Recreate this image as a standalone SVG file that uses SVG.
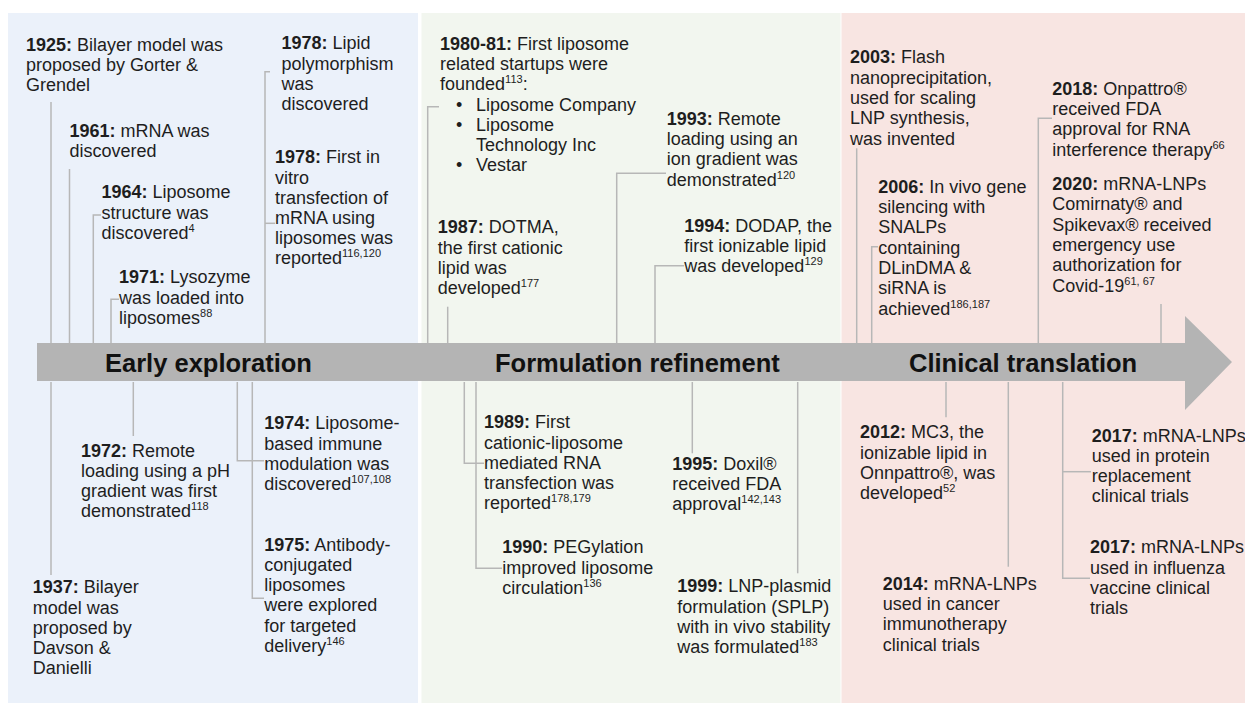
<svg xmlns="http://www.w3.org/2000/svg" width="1245" height="705" viewBox="0 0 1245 705">
<style>
.t{font-family:"Liberation Sans",Arial,Helvetica,sans-serif;font-size:18px;fill:#1e1e1e}
.b{font-weight:bold}
.s{font-size:11px}
.h{font-family:"Liberation Sans",Arial,Helvetica,sans-serif;font-size:25.5px;font-weight:bold;fill:#111}
.c{fill:none;stroke:#b7b7b7;stroke-width:1.5}
</style>
<rect width="1245" height="705" fill="#ffffff"/>
<g id="panels">
<rect x="8" y="13" width="410" height="690" fill="#ebf1fa"/>
<rect x="421.5" y="13" width="419" height="690" fill="#f2f6ef"/>
<rect x="841.5" y="13" width="403.5" height="690" fill="#f8e5e2"/>
</g>
<g id="connectors" class="c">
<path d="M51 102V343"/>
<path d="M51 382V575"/>
<path d="M69.5 169V343"/>
<path d="M101 215H93.3V343"/>
<path d="M119 299.3H111V343"/>
<path d="M270 71.7H265V343"/>
<path d="M275 223.3H265"/>
<path d="M133.3 382V436"/>
<path d="M237.3 382V460.7H264"/>
<path d="M252.3 382V598.3H264"/>
<path d="M439 106.7H427.7V343"/>
<path d="M447.7 306.7V343"/>
<path d="M666 173.3H616.7V343"/>
<path d="M684 265.7H655V343"/>
<path d="M464.3 382V463.3H484"/>
<path d="M476 382V568.3H502"/>
<path d="M692.3 382V453.3"/>
<path d="M797.7 382V573.3"/>
<path d="M856.7 148.3V343"/>
<path d="M878 246.7H871.7V343"/>
<path d="M1052 118.3H1038.3V343"/>
<path d="M1161 304V343"/>
<path d="M946 382V417.3"/>
<path d="M1008.3 382V566.7"/>
<path d="M1062.7 382V578.3H1090"/>
<path d="M1062.7 471.7H1091"/>
</g>
<g id="arrow">
<path d="M37 343H1185V316L1232 362L1185 410V381H37Z" fill="#b4b4b4"/>
<text class="h" x="105" y="372">Early exploration</text>
<text class="h" x="495" y="372">Formulation refinement</text>
<text class="h" x="909" y="372">Clinical translation</text>
</g>
<g id="n1925"><text class="t"><tspan x="26" y="50.5"><tspan class="b">1925:</tspan> Bilayer model was</tspan><tspan x="26" y="70.7">proposed by Gorter &amp;</tspan><tspan x="26" y="90.9">Grendel</tspan></text></g>
<g id="n1961"><text class="t"><tspan x="69.5" y="136.7"><tspan class="b">1961:</tspan> mRNA was</tspan><tspan x="69.5" y="156.9">discovered</tspan></text></g>
<g id="n1964"><text class="t"><tspan x="101.5" y="198.3"><tspan class="b">1964:</tspan> Liposome</tspan><tspan x="101.5" y="218.5">structure was</tspan><tspan x="101.5" y="238.7">discovered<tspan class="s" dy="-7">4</tspan></tspan></text></g>
<g id="n1971"><text class="t"><tspan x="119" y="283.3"><tspan class="b">1971:</tspan> Lysozyme</tspan><tspan x="119" y="303.5">was loaded into</tspan><tspan x="119" y="323.7">liposomes<tspan class="s" dy="-7">88</tspan></tspan></text></g>
<g id="n1978a"><text class="t"><tspan x="281.5" y="49.3"><tspan class="b">1978:</tspan> Lipid</tspan><tspan x="281.5" y="69.5">polymorphism</tspan><tspan x="281.5" y="89.7">was</tspan><tspan x="281.5" y="109.9">discovered</tspan></text></g>
<g id="n1978b"><text class="t"><tspan x="275" y="163.3"><tspan class="b">1978:</tspan> First in</tspan><tspan x="275" y="183.5">vitro</tspan><tspan x="275" y="203.7">transfection of</tspan><tspan x="275" y="223.9">mRNA using</tspan><tspan x="275" y="244.1">liposomes was</tspan><tspan x="275" y="264.3">reported<tspan class="s" dy="-7">116,120</tspan></tspan></text></g>
<g id="n1972"><text class="t"><tspan x="81" y="456.5"><tspan class="b">1972:</tspan> Remote</tspan><tspan x="81" y="476.7">loading using a pH</tspan><tspan x="81" y="496.9">gradient was first</tspan><tspan x="81" y="517.1">demonstrated<tspan class="s" dy="-7">118</tspan></tspan></text></g>
<g id="n1974"><text class="t"><tspan x="264.3" y="429.3"><tspan class="b">1974:</tspan> Liposome-</tspan><tspan x="264.3" y="449.5">based immune</tspan><tspan x="264.3" y="469.7">modulation was</tspan><tspan x="264.3" y="489.9">discovered<tspan class="s" dy="-7">107,108</tspan></tspan></text></g>
<g id="n1975"><text class="t"><tspan x="264.3" y="550.7"><tspan class="b">1975:</tspan> Antibody-</tspan><tspan x="264.3" y="570.9">conjugated</tspan><tspan x="264.3" y="591.1">liposomes</tspan><tspan x="264.3" y="611.3">were explored</tspan><tspan x="264.3" y="631.5">for targeted</tspan><tspan x="264.3" y="651.7">delivery<tspan class="s" dy="-7">146</tspan></tspan></text></g>
<g id="n1937"><text class="t"><tspan x="32.7" y="593.3"><tspan class="b">1937:</tspan> Bilayer</tspan><tspan x="32.7" y="613.5">model was</tspan><tspan x="32.7" y="633.7">proposed by</tspan><tspan x="32.7" y="653.9">Davson &amp;</tspan><tspan x="32.7" y="674.1">Danielli</tspan></text></g>
<g id="n1980"><text class="t"><tspan x="440" y="50"><tspan class="b">1980-81:</tspan> First liposome</tspan><tspan x="440" y="70.2">related startups were</tspan><tspan x="440" y="90.4">founded<tspan class="s" dy="-7">113</tspan><tspan dy="7">:</tspan></tspan><tspan x="456" y="110.6">•</tspan><tspan x="476" y="110.6">Liposome Company</tspan><tspan x="456" y="130.8">•</tspan><tspan x="476" y="130.8">Liposome</tspan><tspan x="476" y="151">Technology Inc</tspan><tspan x="456" y="171.2">•</tspan><tspan x="476" y="171.2">Vestar</tspan></text></g>
<g id="n1987"><text class="t"><tspan x="437.7" y="233.3"><tspan class="b">1987:</tspan> DOTMA,</tspan><tspan x="437.7" y="253.5">the first cationic</tspan><tspan x="437.7" y="273.7">lipid was</tspan><tspan x="437.7" y="293.9">developed<tspan class="s" dy="-7">177</tspan></tspan></text></g>
<g id="n1993"><text class="t"><tspan x="666.7" y="125"><tspan class="b">1993:</tspan> Remote</tspan><tspan x="666.7" y="145.2">loading using an</tspan><tspan x="666.7" y="165.4">ion gradient was</tspan><tspan x="666.7" y="185.6">demonstrated<tspan class="s" dy="-7">120</tspan></tspan></text></g>
<g id="n1994"><text class="t"><tspan x="684.3" y="231.7"><tspan class="b">1994:</tspan> DODAP, the</tspan><tspan x="684.3" y="251.9">first ionizable lipid</tspan><tspan x="684.3" y="272.1">was developed<tspan class="s" dy="-7">129</tspan></tspan></text></g>
<g id="n1989"><text class="t"><tspan x="484" y="428.3"><tspan class="b">1989:</tspan> First</tspan><tspan x="484" y="448.5">cationic-liposome</tspan><tspan x="484" y="468.7">mediated RNA</tspan><tspan x="484" y="488.9">transfection was</tspan><tspan x="484" y="509.1">reported<tspan class="s" dy="-7">178,179</tspan></tspan></text></g>
<g id="n1990"><text class="t"><tspan x="502.3" y="553.3"><tspan class="b">1990:</tspan> PEGylation</tspan><tspan x="502.3" y="573.5">improved liposome</tspan><tspan x="502.3" y="593.7">circulation<tspan class="s" dy="-7">136</tspan></tspan></text></g>
<g id="n1995"><text class="t"><tspan x="672.3" y="470"><tspan class="b">1995:</tspan> Doxil®</tspan><tspan x="672.3" y="490.2">received FDA</tspan><tspan x="672.3" y="510.4">approval<tspan class="s" dy="-7">142,143</tspan></tspan></text></g>
<g id="n1999"><text class="t"><tspan x="677.3" y="592.3"><tspan class="b">1999:</tspan> LNP-plasmid</tspan><tspan x="677.3" y="612.5">formulation (SPLP)</tspan><tspan x="677.3" y="632.7">with in vivo stability</tspan><tspan x="677.3" y="652.9">was formulated<tspan class="s" dy="-7">183</tspan></tspan></text></g>
<g id="n2003"><text class="t"><tspan x="850" y="63.3"><tspan class="b">2003:</tspan> Flash</tspan><tspan x="850" y="83.6">nanoprecipitation,</tspan><tspan x="850" y="103.9">used for scaling</tspan><tspan x="850" y="124.2">LNP synthesis,</tspan><tspan x="850" y="144.5">was invented</tspan></text></g>
<g id="n2006"><text class="t"><tspan x="878.3" y="192.7"><tspan class="b">2006:</tspan> In vivo gene</tspan><tspan x="878.3" y="213">silencing with</tspan><tspan x="878.3" y="233.3">SNALPs</tspan><tspan x="878.3" y="253.6">containing</tspan><tspan x="878.3" y="273.9">DLinDMA &amp;</tspan><tspan x="878.3" y="294.2">siRNA is</tspan><tspan x="878.3" y="314.5">achieved<tspan class="s" dy="-7">186,187</tspan></tspan></text></g>
<g id="n2018"><text class="t"><tspan x="1052.3" y="95"><tspan class="b">2018:</tspan> Onpattro®</tspan><tspan x="1052.3" y="115.2">received FDA</tspan><tspan x="1052.3" y="135.4">approval for RNA</tspan><tspan x="1052.3" y="155.6">interference therapy<tspan class="s" dy="-7">66</tspan></tspan></text></g>
<g id="n2020"><text class="t"><tspan x="1052.3" y="190"><tspan class="b">2020:</tspan> mRNA-LNPs</tspan><tspan x="1052.3" y="210.3">Comirnaty® and</tspan><tspan x="1052.3" y="230.6">Spikevax® received</tspan><tspan x="1052.3" y="250.9">emergency use</tspan><tspan x="1052.3" y="271.2">authorization for</tspan><tspan x="1052.3" y="291.5">Covid-19<tspan class="s" dy="-7">61, 67</tspan></tspan></text></g>
<g id="n2012"><text class="t"><tspan x="860" y="438.3"><tspan class="b">2012:</tspan> MC3, the</tspan><tspan x="860" y="458.6">ionizable lipid in</tspan><tspan x="860" y="478.9">Onnpattro®, was</tspan><tspan x="860" y="499.2">developed<tspan class="s" dy="-7">52</tspan></tspan></text></g>
<g id="n2014"><text class="t"><tspan x="882.7" y="590"><tspan class="b">2014:</tspan> mRNA-LNPs</tspan><tspan x="882.7" y="610.2">used in cancer</tspan><tspan x="882.7" y="630.4">immunotherapy</tspan><tspan x="882.7" y="650.6">clinical trials</tspan></text></g>
<g id="n2017a"><text class="t"><tspan x="1091.7" y="441.7"><tspan class="b">2017:</tspan> mRNA-LNPs</tspan><tspan x="1091.7" y="461.9">used in protein</tspan><tspan x="1091.7" y="482.1">replacement</tspan><tspan x="1091.7" y="502.3">clinical trials</tspan></text></g>
<g id="n2017b"><text class="t"><tspan x="1090" y="553.3"><tspan class="b">2017:</tspan> mRNA-LNPs</tspan><tspan x="1090" y="573.5">used in influenza</tspan><tspan x="1090" y="593.7">vaccine clinical</tspan><tspan x="1090" y="613.9">trials</tspan></text></g>
</svg>
